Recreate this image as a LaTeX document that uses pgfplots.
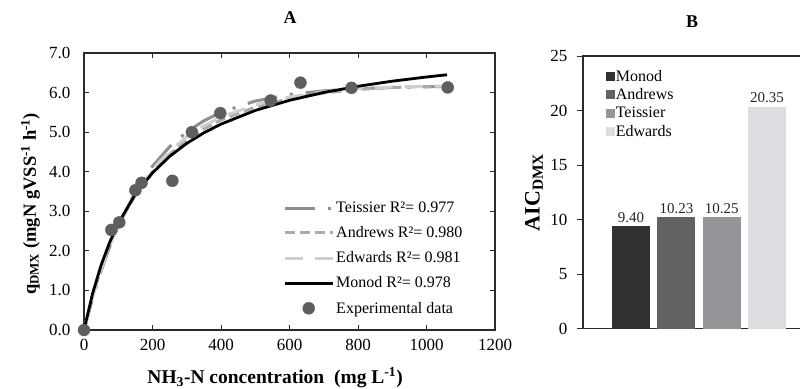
\documentclass[border=0pt]{standalone}
\usepackage{fontspec}
\setmainfont{Liberation Serif}
\usepackage{pgfplots}
\pgfplotsset{compat=1.18}
\definecolor{cTei}{HTML}{8E8E8E}
\definecolor{cAnd}{HTML}{ABABAB}
\definecolor{cEdw}{HTML}{CFCFCF}
\definecolor{cPt}{HTML}{5E5E5E}
\definecolor{bMon}{HTML}{323132}
\definecolor{bAnd}{HTML}{636365}
\definecolor{bTei}{HTML}{949598}
\definecolor{bEdw}{HTML}{DCDDE0}
\definecolor{axc}{HTML}{2A2A2A}

\pgfplotsset{dotlegend/.style={legend image code/.code={\draw[mark repeat=2,mark phase=2,##1] plot coordinates {(0bp,0bp) (24bp,0bp) (48bp,0bp)};}}}

\pgfplotstableread{
S q
0 0
80 2.53
103 2.72
150 3.53
168 3.72
258 3.77
315 5.00
398 5.48
545 5.80
632 6.25
781 6.12
1062 6.13
}\expdata

\pgfplotstableread{
S q
0 0
25 0.920
50 1.640
75 2.219
100 2.695
150 3.430
200 3.971
250 4.387
300 4.716
350 4.983
400 5.203
500 5.548
600 5.804
700 6.002
800 6.159
900 6.288
1000 6.394
1060 6.450
}\monod

\pgfplotstableread{
S q
0 0
25 0.800
50 1.496
75 2.103
100 2.630
150 3.489
200 4.139
250 4.631
300 5.005
350 5.287
400 5.501
500 5.786
600 5.950
700 6.044
800 6.098
900 6.129
1000 6.146
1060 6.153
}\teissier

\pgfplotstableread{
S q
0 0
25 0.85
50 1.56
75 2.15
100 2.64
150 3.42
200 4.00
250 4.44
300 4.80
350 5.08
400 5.31
500 5.63
600 5.85
700 5.99
800 6.08
900 6.13
1000 6.15
1060 6.15
}\andrews

\pgfplotstableread{
S q
0 0
25 0.83
50 1.53
75 2.13
100 2.64
150 3.45
200 4.06
250 4.52
300 4.88
350 5.16
400 5.38
500 5.69
600 5.89
700 6.02
800 6.10
900 6.14
1000 6.16
1060 6.16
}\edwards

\begin{document}
\begin{tikzpicture}[font=\fontsize{17bp}{20bp}\selectfont]
\useasboundingbox (0,0) rectangle (800bp,389bp);
\begin{axis}[
  at={(84bp,59bp)}, anchor=south west,
  scale only axis, width=411bp, height=277bp,
  xmin=0, xmax=1200, ymin=0, ymax=7,
  xtick={0,200,...,1200}, ytick={0,1,...,7},
  tick align=inside, major tick length=5bp,
  tick style={axc, line width=0.8bp},
  axis line style={axc, line width=1.2bp},
  /pgf/number format/assume math mode=true,
  /pgf/number format/1000 sep={},
  yticklabel style={/pgf/number format/.cd,fixed,fixed zerofill,precision=1, /tikz/xshift=-10bp},
  xticklabel style={yshift=-6bp},
  xlabel={\textbf{NH\textsubscript{3}-N concentration\ \ (mg L\textsuperscript{-1})}},
  xlabel style={at={(axis description cs:0.465,-0.172)}, anchor=center, font=\fontsize{19.5bp}{22bp}\selectfont},
  ylabel={\textbf{q\textsubscript{DMX} (mgN gVSS\textsuperscript{-1} h\textsuperscript{-1})}},
  ylabel style={at={(axis description cs:-0.13,0.455)}, anchor=center, font=\fontsize{18.5bp}{21bp}\selectfont},
  legend style={at={(axis description cs:0.477,0.477)}, anchor=north west, draw=none, fill=none,
    font=\fontsize{16bp}{19bp}\selectfont, row sep=8.5bp,
    nodes={inner sep=2bp}},
  legend cell align=left,
  legend image code/.code={\draw[#1] (0bp,0bp) -- (48bp,0bp);},
]
\addplot[cTei, line width=3bp, dash pattern=on 30bp off 13bp on 3bp off 13bp] table[x=S,y=q]{\teissier};
\addlegendentry{Teissier R²= 0.977}
\addplot[cAnd, line width=3bp, dash pattern=on 10bp off 5bp] table[x=S,y=q]{\andrews};
\addlegendentry{Andrews R²= 0.980}
\addplot[cEdw, line width=3bp, dash pattern=on 18bp off 12bp] table[x=S,y=q]{\edwards};
\addlegendentry{Edwards R²= 0.981}
\addplot[black, line width=2.8bp] table[x=S,y=q]{\monod};
\addlegendentry{Monod R²= 0.978}
\addplot[only marks, mark=*, mark size=6bp, cPt, mark options={fill=cPt, draw=cPt}, dotlegend]
  table[x=S,y=q]{\expdata};
\addlegendentry{Experimental data}
\end{axis}

\begin{axis}[
  at={(583bp,60.5bp)}, anchor=south west,
  scale only axis, width=228bp, height=272.5bp,
  xmin=-1.06, xmax=3.97, ymin=0, ymax=25,
  ytick={0,5,...,25}, xtick=\empty,
  tick align=outside, major tick length=6bp,
  tick style={axc, line width=0.8bp},
  axis line style={axc, line width=1.2bp},
  /pgf/number format/assume math mode=true,
  yticklabel style={xshift=-6bp},
  ybar, bar width=38bp, bar shift=0pt,
  nodes near coords={\pgfmathprintnumber[fixed,fixed zerofill,precision=2]{\pgfplotspointmeta}},
  every node near coord/.append style={font=\fontsize{15bp}{18bp}\selectfont, black!85},
  ylabel={\textbf{AIC\textsubscript{DMX}}},
  ylabel style={at={(axis description cs:-0.215,0.5)}, anchor=center, font=\fontsize{22bp}{25bp}\selectfont},
  legend style={at={(axis description cs:0.085,0.96)}, anchor=north west, draw=none, fill=none,
    font=\fontsize{16bp}{18bp}\selectfont, row sep=3.4bp,
    nodes={inner sep=1.2bp}},
  legend cell align=left,
  legend image code/.code={\draw[#1,draw=none] (0bp,-4.5bp) rectangle (9bp,4.5bp);},
]
\addplot[fill=bMon, draw=none] coordinates {(0,9.40)};
\addlegendentry{Monod}
\addplot[fill=bAnd, draw=none] coordinates {(1,10.23)};
\addlegendentry{Andrews}
\addplot[fill=bTei, draw=none] coordinates {(2,10.25)};
\addlegendentry{Teissier}
\addplot[fill=bEdw, draw=none] coordinates {(3,20.35)};
\addlegendentry{Edwards}
\end{axis}

\node[font=\fontsize{18bp}{20bp}\selectfont\bfseries] at (290bp,371bp) {A};
\node[font=\fontsize{18bp}{20bp}\selectfont\bfseries] at (692bp,367bp) {B};
\end{tikzpicture}
\end{document}
